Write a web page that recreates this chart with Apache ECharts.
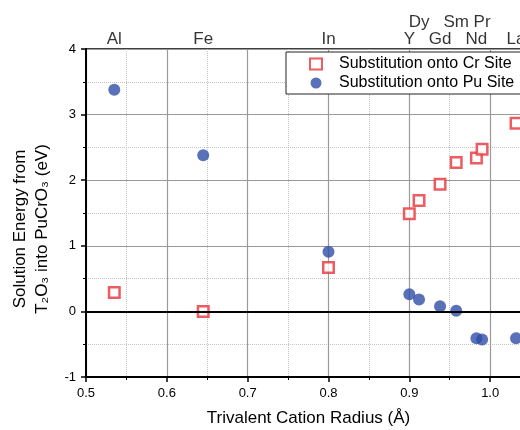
<!DOCTYPE html>
<html>
<head>
<meta charset="utf-8">
<script src="https://cdn.jsdelivr.net/npm/echarts@6/dist/echarts.min.js"></script>
<style>
  html, body { margin: 0; padding: 0; background: #fff; }
  #chart { width: 520px; height: 430px; }
</style>
</head>
<body>
<div id="chart"></div>
<script>
// cation radii (Å) of the trivalent dopants
var elements = ['Al', 'Fe', 'In', 'Y', 'Dy', 'Gd', 'Sm', 'Nd', 'Pr', 'La'];
var radius = [0.535, 0.645, 0.80, 0.900, 0.912, 0.938, 0.958, 0.983, 0.990, 1.032];
// solution energies (eV)
var crSite = [0.29, 0.00, 0.67, 1.49, 1.69, 1.94, 2.27, 2.34, 2.47, 2.87];
var puSite = [3.38, 2.38, 0.91, 0.26, 0.18, 0.08, 0.01, -0.41, -0.43, -0.41];
// element labels above the frame: upper row or lower row
var labelRow = [0, 0, 0, 0, 1, 0, 1, 0, 1, 0];

var font = 'Liberation Sans, Arial, Helvetica, sans-serif';

function pairs(vals) {
    return radius.map(function (r, i) { return [r, vals[i]]; });
}

var topLabels = elements.map(function (name, i) {
    return {
        value: [radius[i], 4],
        label: { formatter: name, distance: labelRow[i] ? 18 : 1 }
    };
});

var chart = echarts.init(document.getElementById('chart'));
chart.setOption({
    animation: false,
    textStyle: { fontFamily: font },
    // plot runs past the right edge, as in the cropped original
    grid: {
        left: 86, top: 49, right: -51, bottom: 53,
        outerBoundsMode: 'none',
        containLabel: false,
        show: true, borderColor: '#000', borderWidth: 1.5
    },
    legend: {
        orient: 'vertical',
        left: 286, top: 52,
        data: ['Substitution onto Cr Site', 'Substitution onto Pu Site'],
        backgroundColor: '#fff',
        borderColor: '#222',
        borderWidth: 1,
        padding: [4, 14, 3, 23],
        itemGap: 3,
        itemWidth: 12,
        itemHeight: 11,
        textStyle: { fontSize: 16, color: '#000', fontFamily: font, padding: [0, 0, 0, 12] }
    },
    xAxis: {
        type: 'value',
        min: 0.5, max: 1.1, interval: 0.1,
        name: 'Trivalent Cation Radius (Å)',
        nameLocation: 'middle',
        nameGap: 33,
        nameTextStyle: { fontSize: 17, color: '#000', padding: [0, 40, 0, 0] },
        axisLine: { onZero: false, lineStyle: { color: '#000', width: 2 } },
        axisTick: { length: 5, lineStyle: { color: '#000', width: 1.5 } },
        minorTick: { show: true, splitNumber: 2, length: 3, lineStyle: { color: '#000' } },
        axisLabel: {
            fontSize: 13, color: '#000', margin: 10,
            formatter: function (v) { return v.toFixed(1); }
        },
        splitLine: { show: true, lineStyle: { color: '#9a9a9a', width: 1.2 } },
        minorSplitLine: { show: true, lineStyle: { color: '#c4c4c4', type: 'dotted' } }
    },
    yAxis: {
        type: 'value',
        min: -1, max: 4, interval: 1,
        name: 'Solution Energy from\nT₂O₃ into PuCrO₃ (eV)',
        nameLocation: 'middle',
        nameGap: 21,
        nameTextStyle: { fontSize: 17, color: '#000', lineHeight: 22, padding: [0, 32, 0, 0] },
        axisLine: { onZero: false, lineStyle: { color: '#000', width: 2 } },
        axisTick: { length: 5, lineStyle: { color: '#000', width: 1.5 } },
        minorTick: { show: true, splitNumber: 2, length: 3, lineStyle: { color: '#000' } },
        axisLabel: { fontSize: 13, color: '#000', margin: 10 },
        splitLine: { show: true, lineStyle: { color: '#9a9a9a', width: 1.2 } },
        minorSplitLine: { show: true, lineStyle: { color: '#c4c4c4', type: 'dotted' } }
    },
    series: [
        {
            name: 'Substitution onto Cr Site',
            type: 'scatter',
            symbol: 'rect',
            symbolSize: 10.5,
            itemStyle: { color: '#fff', borderColor: '#e8333c', borderWidth: 2.5 },
            data: pairs(crSite),
            z: 3
        },
        {
            name: 'Substitution onto Pu Site',
            type: 'scatter',
            symbol: 'circle',
            symbolSize: 12,
            itemStyle: { color: '#2f4ea6' },
            data: pairs(puSite),
            markLine: {
                silent: true,
                symbol: 'none',
                label: { show: false },
                lineStyle: { color: '#000', width: 2, type: 'solid' },
                data: [{ yAxis: 0 }]
            },
            z: 4
        },
        {
            name: 'labels',
            type: 'scatter',
            symbolSize: 0,
            silent: true,
            clip: false,
            label: {
                show: true,
                position: 'top',
                fontSize: 17,
                color: '#000',
                fontFamily: font
            },
            data: topLabels
        }
    ]
});
</script>
</body>
</html>
